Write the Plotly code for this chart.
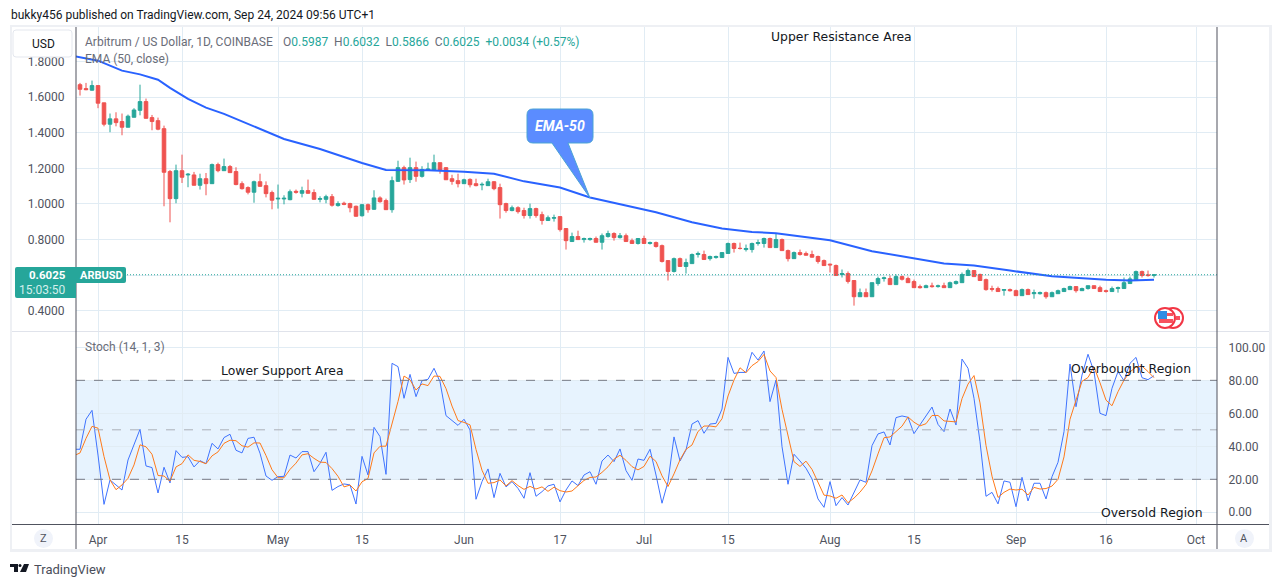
import plotly.graph_objects as go
import numpy as np

W, H = 1281, 587
UP, DOWN = '#26a69a', '#ef5350'
GRID = '#e1ecf4'

# open, high, low, close
OHLC = np.array([
    [1.670,1.680,1.609,1.644],[1.648,1.680,1.639,1.642],[1.639,1.693,1.637,1.665],[1.665,1.665,1.538,1.566],
    [1.568,1.568,1.436,1.448],[1.448,1.508,1.403,1.478],[1.478,1.515,1.436,1.457],[1.463,1.508,1.386,1.431],
    [1.431,1.502,1.431,1.493],[1.487,1.538,1.487,1.528],[1.526,1.670,1.498,1.575],[1.575,1.592,1.481,1.481],
    [1.485,1.500,1.414,1.463],[1.468,1.485,1.414,1.420],[1.423,1.440,0.987,1.178],[1.182,1.191,0.897,1.030],
    [1.030,1.221,1.004,1.187],[1.187,1.277,1.118,1.150],[1.163,1.174,1.094,1.167],[1.163,1.180,1.105,1.105],
    [1.105,1.170,1.081,1.142],[1.142,1.174,1.049,1.114],[1.114,1.227,1.112,1.221],[1.221,1.232,1.178,1.187],
    [1.187,1.255,1.187,1.210],[1.210,1.219,1.176,1.176],[1.182,1.206,1.105,1.109],[1.114,1.127,1.081,1.086],
    [1.092,1.099,1.054,1.066],[1.066,1.131,1.007,1.125],[1.125,1.170,1.097,1.099],[1.103,1.127,1.037,1.058],
    [1.064,1.075,0.970,1.021],[1.028,1.109,0.974,1.032],[1.028,1.049,0.998,1.032],[1.024,1.081,1.021,1.069],
    [1.071,1.081,1.058,1.066],[1.060,1.097,1.037,1.075],[1.075,1.137,1.058,1.060],[1.064,1.082,1.024,1.026],
    [1.026,1.043,1.009,1.030],[1.026,1.052,1.004,1.041],[1.041,1.056,0.985,0.993],[0.991,1.015,0.985,1.002],
    [1.004,1.013,0.993,0.998],[1.002,1.007,0.953,0.979],[0.987,0.991,0.929,0.931],[0.934,1.000,0.929,0.996],
    [0.996,1.002,0.951,0.968],[0.970,1.077,0.968,1.034],[1.034,1.043,1.007,1.013],[1.019,1.030,0.966,0.968],
    [0.968,1.154,0.951,1.131],[1.127,1.243,1.125,1.204],[1.204,1.215,1.109,1.135],[1.137,1.260,1.118,1.204],
    [1.204,1.238,1.125,1.155],[1.155,1.212,1.148,1.193],[1.190,1.232,1.186,1.196],[1.189,1.277,1.187,1.232],
    [1.232,1.232,1.170,1.189],[1.204,1.207,1.136,1.136],[1.142,1.164,1.108,1.127],[1.131,1.170,1.093,1.114],
    [1.114,1.142,1.114,1.136],[1.138,1.144,1.093,1.108],[1.114,1.142,1.099,1.103],[1.107,1.121,1.077,1.110],
    [1.103,1.142,1.103,1.125],[1.125,1.129,1.077,1.086],[1.092,1.114,0.918,0.996],[1.002,1.007,0.951,0.963],
    [0.963,0.991,0.959,0.979],[0.979,0.987,0.946,0.957],[0.963,0.979,0.918,0.935],[0.935,1.002,0.918,0.974],
    [0.974,0.979,0.923,0.935],[0.940,0.957,0.884,0.907],[0.907,0.935,0.907,0.923],[0.920,0.940,0.901,0.923],
    [0.929,0.929,0.845,0.856],[0.862,0.862,0.744,0.794],[0.789,0.839,0.789,0.817],[0.817,0.850,0.800,0.800],
    [0.800,0.811,0.783,0.806],[0.800,0.811,0.794,0.806],[0.806,0.817,0.783,0.785],[0.785,0.834,0.744,0.822],
    [0.817,0.850,0.811,0.834],[0.834,0.841,0.794,0.811],[0.811,0.837,0.806,0.822],[0.822,0.834,0.789,0.789],
    [0.794,0.806,0.778,0.778],[0.778,0.806,0.772,0.806],[0.806,0.822,0.778,0.778],[0.778,0.789,0.772,0.783],
    [0.783,0.789,0.755,0.761],[0.766,0.772,0.671,0.677],[0.682,0.682,0.570,0.621],[0.621,0.699,0.615,0.693],
    [0.693,0.699,0.649,0.649],[0.649,0.693,0.609,0.671],[0.665,0.722,0.665,0.716],[0.716,0.733,0.699,0.722],
    [0.716,0.738,0.688,0.688],[0.693,0.710,0.682,0.705],[0.699,0.710,0.693,0.705],[0.699,0.727,0.699,0.727],
    [0.722,0.783,0.722,0.778],[0.778,0.783,0.727,0.750],[0.751,0.783,0.744,0.750],[0.744,0.772,0.733,0.750],
    [0.744,0.783,0.727,0.778],[0.778,0.800,0.766,0.783],[0.778,0.811,0.755,0.806],[0.806,0.811,0.755,0.755],
    [0.755,0.834,0.755,0.800],[0.800,0.806,0.738,0.738],[0.738,0.744,0.677,0.693],[0.693,0.733,0.693,0.727],
    [0.727,0.744,0.710,0.716],[0.722,0.733,0.710,0.712],[0.716,0.738,0.699,0.701],[0.705,0.710,0.665,0.677],
    [0.682,0.688,0.654,0.654],[0.662,0.665,0.615,0.658],[0.654,0.660,0.598,0.598],[0.604,0.632,0.587,0.609],
    [0.609,0.621,0.553,0.565],[0.570,0.570,0.429,0.479],[0.479,0.525,0.479,0.502],[0.502,0.525,0.479,0.479],
    [0.479,0.558,0.479,0.558],[0.553,0.592,0.541,0.581],[0.581,0.592,0.564,0.585],[0.581,0.598,0.547,0.547],
    [0.547,0.604,0.547,0.592],[0.592,0.598,0.570,0.577],[0.581,0.592,0.558,0.558],[0.564,0.575,0.530,0.530],
    [0.536,0.547,0.525,0.530],[0.530,0.547,0.530,0.541],[0.540,0.558,0.530,0.536],[0.536,0.547,0.530,0.540],
    [0.541,0.558,0.530,0.530],[0.530,0.564,0.530,0.558],[0.553,0.570,0.547,0.564],[0.558,0.615,0.558,0.604],
    [0.598,0.637,0.598,0.626],[0.626,0.626,0.592,0.592],[0.604,0.609,0.570,0.570],[0.575,0.581,0.513,0.519],
    [0.525,0.541,0.508,0.521],[0.525,0.536,0.508,0.508],[0.515,0.519,0.485,0.519],[0.519,0.525,0.508,0.513],
    [0.513,0.519,0.485,0.485],[0.485,0.525,0.485,0.519],[0.519,0.525,0.491,0.491],[0.496,0.519,0.468,0.502],
    [0.496,0.508,0.491,0.502],[0.502,0.508,0.468,0.479],[0.479,0.508,0.479,0.502],[0.496,0.519,0.496,0.513],
    [0.508,0.530,0.508,0.525],[0.519,0.541,0.519,0.536],[0.536,0.536,0.502,0.513],[0.513,0.530,0.513,0.525],
    [0.525,0.541,0.519,0.541],[0.541,0.541,0.525,0.525],[0.530,0.541,0.508,0.508],[0.513,0.519,0.502,0.509],
    [0.508,0.536,0.508,0.525],[0.525,0.536,0.502,0.530],[0.525,0.587,0.525,0.558],[0.553,0.592,0.553,0.579],
    [0.570,0.626,0.570,0.620],[0.620,0.626,0.587,0.598],[0.602,0.626,0.592,0.598],[0.5987,0.6032,0.5866,0.6025],
])

# EMA (day number from the first candle, value)
EMA_DAY = np.array([-1,3,7,10,13,15,18,21,24,28,34,40,47,51,58,64,69,74,80,85,90,96,102,107,112,116,125,128,132,144,149,155,162,171,175,179])
EMA_VAL = np.array([1.831,1.805,1.749,1.728,1.698,1.652,1.590,1.541,1.506,1.449,1.365,1.309,1.230,1.191,1.189,1.181,1.170,1.127,
                    1.092,1.036,1.000,0.953,0.897,0.862,0.843,0.836,0.796,0.769,0.735,0.666,0.654,0.626,0.594,0.575,0.570,0.575])

# one value more than the candles: the stochastic starts the day before
K = np.array([38.2,38.2,56.4,61.8,34.7,4.8,19.6,16.6,13.5,31.7,40.8,50.3,28.1,27.1,11.7,27.3,17.8,37.4,33.3,33.7,27.5,
              31.3,29.5,41.8,38.4,45.3,47.3,37.6,36.0,44.8,45.5,35.8,22.0,19.4,21.6,21.8,34.7,32.9,36.8,36.8,24.6,
              29.7,36.4,13.3,15.6,17.2,16.6,5.0,33.9,22.6,51.5,45.9,23.0,90.3,88.3,69.1,83.6,70.1,79.8,80.6,87.3,
              79.2,58.6,55.4,52.7,56.4,49.9,7.9,18.6,26.3,8.9,23.6,15.4,18.6,14.5,8.5,24.0,9.7,12.5,16.0,17.0,
              6.3,13.5,19.0,16.2,22.6,24.6,17.0,31.1,34.7,30.7,38.4,25.3,19.4,32.3,31.5,38.2,22.6,5.5,18.6,45.7,
              31.1,37.8,53.5,55.6,47.9,53.5,53.9,62.6,93.9,84.2,84.8,84.8,97.0,92.3,97.8,67.1,80.2,39.8,17.0,35.2,
              31.1,26.7,20.2,8.1,3.0,18.6,4.0,8.9,4.4,12.5,19.6,18.2,40.4,47.5,48.7,40.8,57.4,58.4,57.6,47.7,
              53.3,59.0,63.8,53.3,48.9,62.6,52.9,92.9,87.3,69.1,42.8,9.7,12.1,5.1,19.0,18.2,3.4,21.2,6.9,17.6,
              17.6,8.1,21.6,30.3,48.9,89.9,64.0,83.2,95.8,85.3,60.0,58.6,75.2,85.3,79.8,90.3,93.9,81.6,80.4,82.8])
D = np.array([34.3,36.0,44.8,52.1,51.0,33.8,19.7,13.7,16.6,20.6,28.7,40.9,39.7,35.2,22.3,22.0,18.9,27.5,29.5,34.8,31.5,
              30.8,29.4,34.2,36.6,41.8,43.7,43.4,40.3,39.5,42.1,42.0,34.4,25.8,21.0,20.9,26.0,29.8,34.8,35.5,32.7,
              30.4,30.2,26.5,21.8,15.4,16.5,12.9,18.5,20.5,36.0,40.0,40.1,53.1,67.2,82.6,80.3,74.1,77.8,76.8,82.6,
              82.4,75.0,64.4,55.6,54.5,53.0,38.1,25.5,17.6,18.0,19.6,16.0,19.2,16.2,13.9,15.7,14.1,15.4,12.7,15.2,
              13.1,12.3,12.9,16.2,19.3,21.1,21.4,24.2,27.6,32.2,34.6,31.5,27.7,25.7,27.8,34.0,30.8,22.1,15.6,23.3,
              31.8,38.2,40.8,49.0,52.3,52.3,51.8,56.7,70.5,80.2,87.6,84.6,88.9,91.4,95.7,85.7,81.7,62.4,45.7,30.7,
              27.8,31.0,26.0,18.3,10.4,9.9,8.5,10.5,5.8,8.6,12.2,16.8,25.1,35.4,45.2,45.7,49.0,52.2,57.8,54.6,
              52.4,53.7,58.7,58.7,55.4,54.9,54.8,68.9,77.7,82.9,66.3,40.5,21.9,9.0,12.1,14.1,13.5,14.0,10.5,15.1,
              14.1,14.4,15.9,20.0,33.6,56.4,67.6,79.4,81.7,88.1,78.5,68.0,64.6,73.1,80.1,85.1,88.0,88.6,85.3,81.6])


def px(x: float) -> float:
    return x / W


def py(y: float) -> float:
    return 1 - y / H


def box(x0, y0, x1, y1, fill, line=None, kind='rect', width=1) -> dict:
    """
    """
    return dict(type=kind, xref='paper', yref='paper', x0=px(x0), y0=py(y0), x1=px(x1), y1=py(y1),
                fillcolor=fill, line=dict(color=line or fill, width=width if line else 0), layer='above')


def path(points: list, fill: str, line: str = None, width: float = 1) -> dict:
    """
    """
    d = ' '.join(f'{c}{px(x):.5f},{py(y):.5f}' for c, x, y in points) + ' Z'
    return dict(type='path', xref='paper', yref='paper', path=d, fillcolor=fill,
                line=dict(color=line or fill, width=width if line else 0), layer='above')


def label(x, y, text, color='#50535e', size=12, anchor='left', family='Roboto') -> dict:
    """
    """
    return dict(xref='paper', yref='paper', x=px(x), y=py(y), text=text, showarrow=False, xanchor=anchor,
                yanchor='middle', font=dict(color=color, size=size, family=family), borderpad=0)


def draw_chart(ohlc: np.ndarray, k: np.ndarray, d: np.ndarray) -> None:
    """
    """
    days = np.arange('2024-03-29', '2024-09-25', dtype='datetime64[D]')
    dates = days.astype(str)
    stoch_dates = np.arange('2024-03-28', '2024-09-25', dtype='datetime64[D]').astype(str)
    ema_dates = (days[0] + EMA_DAY.astype('timedelta64[D]')).astype(str)

    fig = go.Figure(data=[
        go.Candlestick(x=dates, open=ohlc[:, 0], high=ohlc[:, 1], low=ohlc[:, 2], close=ohlc[:, 3],
                       increasing=dict(line=dict(color=UP, width=1), fillcolor=UP),
                       decreasing=dict(line=dict(color=DOWN, width=1), fillcolor=DOWN),
                       whiskerwidth=0, xaxis='x2', yaxis='y'),
        go.Scatter(x=ema_dates, y=EMA_VAL, mode='lines', line=dict(color='#2962ff', width=2), xaxis='x2', yaxis='y'),
        go.Scatter(x=stoch_dates, y=k, mode='lines', line=dict(color='#3f73ff', width=1), xaxis='x', yaxis='y2'),
        go.Scatter(x=stoch_dates, y=d, mode='lines', line=dict(color='#ff7a1a', width=1), xaxis='x', yaxis='y2'),
    ])

    tick_days = ['2024-04-01', '2024-04-15', '2024-05-01', '2024-05-15', '2024-06-01', '2024-06-17', '2024-07-01',
                 '2024-07-15', '2024-08-01', '2024-08-15', '2024-09-01', '2024-09-16', '2024-10-01']
    tick_text = ['Apr', '15', 'May', '15', 'Jun', '17', 'Jul', '15', 'Aug', '15', 'Sep', '16', 'Oct']
    x_range = ['2024-03-28 08:00', '2024-10-04 12:00']
    x_common = dict(type='date', range=x_range, domain=[px(76), px(1217)], tickmode='array', tickvals=tick_days,
                    gridcolor=GRID, gridwidth=1, zeroline=False, showline=False)

    shapes = [
        # 現在値の点線と Stoch の帯
        dict(type='line', xref='x2 domain', yref='y', x0=0, x1=1, y0=0.6025, y1=0.6025,
             line=dict(color=UP, width=1, dash='1px,2px'), layer='above'),
        dict(type='rect', xref='x domain', yref='y2', x0=0, x1=1, y0=20, y1=80,
             fillcolor='rgba(33,150,243,0.11)', line=dict(width=0), layer='below'),
    ]
    for level, colour in [(80, '#787b86'), (50, '#acafb8'), (20, '#787b86')]:
        shapes.append(dict(type='line', xref='x domain', yref='y2', x0=0, x1=1, y0=level, y1=level,
                           line=dict(color=colour, width=1, dash='dash'), layer='above'))

    # 枠
    for rect in [(10, 25, 1272, 27), (10, 549, 1272, 552), (10, 25, 12, 552), (1269, 25, 1272, 552)]:
        shapes.append(box(*rect, '#eef0f4'))
    shapes += [
        box(12, 331, 1269, 332, '#e0e3eb'),
        box(12, 524, 1269, 525, '#50535e'),
        box(75.5, 27, 76.5, 549, '#50535e'),
        box(1216.5, 27, 1217.5, 549, '#50535e'),
        # USD
        path([('M', 16, 30), ('L', 69, 30), ('Q', 72, 30), ('', 72, 33), ('L', 72, 54), ('Q', 72, 57), ('', 69, 57),
              ('L', 16, 57), ('Q', 13, 57), ('', 13, 54), ('L', 13, 33), ('Q', 13, 30), ('', 16, 30)],
             '#ffffff', '#e4e7ee'),
        # 価格ラベル
        path([('M', 17, 267), ('L', 76, 267), ('L', 76, 298), ('L', 17, 298), ('Q', 15, 298), ('', 15, 296),
              ('L', 15, 269), ('Q', 15, 267), ('', 17, 267)], UP),
        path([('M', 76, 267), ('L', 124, 267), ('Q', 126, 267), ('', 126, 269), ('L', 126, 281), ('Q', 126, 283), ('', 124, 283),
              ('L', 76, 283)], UP),
        # EMA-50 の吹き出し
        path([('M', 533, 109), ('L', 587, 109), ('Q', 593, 109), ('', 593, 115), ('L', 593, 137), ('Q', 593, 143), ('', 587, 143),
              ('L', 568, 143), ('L', 590, 198), ('L', 552, 143), ('L', 533, 143), ('Q', 527, 143), ('', 527, 137),
              ('L', 527, 115), ('Q', 527, 109), ('', 533, 109)], '#5b8cff', '#4aa3d4', 1),
        # Z, A
        box(34, 529, 53, 548, '#f0f3fa', kind='circle'),
        box(1235, 529, 1254, 548, '#f0f3fa', kind='circle'),
        # 旗
        box(1163, 308, 1183, 328, '#ffffff', '#f23645', kind='circle', width=2),
        box(1155, 308, 1175, 328, '#ffffff', '#f23645', kind='circle', width=2),
        box(1159, 313, 1173, 316, '#f7525f'),
        box(1159, 319, 1173, 323, '#f7525f'),
        box(1176, 316, 1180, 320, '#f7525f'),
        box(1158, 311, 1167, 319, '#2f8de4'),
        # ロゴ
        path([('M', 10, 564), ('L', 18, 564), ('L', 18, 572), ('L', 14, 572), ('L', 14, 567), ('L', 10, 567)], '#131722'),
        box(18.5, 564, 21.5, 567, '#131722', kind='circle'),
        path([('M', 24, 564), ('L', 29, 564), ('L', 26, 572), ('L', 20, 572)], '#131722'),
    ]

    green = 'color:#26a69a'
    head = ('O<span style="%s">0.5987</span>  H<span style="%s">0.6032</span>  L<span style="%s">0.5866</span>  '
            'C<span style="%s">0.6025</span>  <span style="%s">+0.0034 (+0.57%%)</span>' % ((green,) * 5)).replace('  ', '\u00a0\u00a0')
    annotations = [
        label(10, 15, 'bukky456 published on TradingView.com, Sep 24, 2024 09:56 UTC+1', '#131722', 12),
        label(84, 42, 'Arbitrum / US Dollar, 1D, COINBASE', '#6a6d78', 12),
        label(282, 42, head, '#6a6d78', 12),
        label(84, 59, 'EMA (50, close)', '#6a6d78', 12),
        label(84, 347, 'Stoch (14, 1, 3)', '#6a6d78', 12),
        label(842, 36, 'Upper Resistance Area', '#131722', 12.4, 'center', 'DejaVu Sans'),
        label(282, 370, 'Lower Support Area', '#131722', 12.4, 'center', 'DejaVu Sans'),
        label(1131, 368, 'Overbought Region', '#131722', 12.4, 'center', 'DejaVu Sans'),
        label(1152, 512, 'Oversold Region', '#131722', 12.4, 'center', 'DejaVu Sans'),
        label(43, 44, 'USD', '#131722', 12, 'center'),
        label(67, 275, '<b>0.6025</b>', '#ffffff', 11.5, 'right'),
        label(67, 290, '15:03:50', '#d4efec', 12, 'right'),
        label(101, 275, '<b>ARBUSD</b>', '#ffffff', 11, 'center'),
        label(560, 126, '<b><i>EMA-50</i></b>', '#ffffff', 14, 'center'),
        label(43, 538, 'Z', '#50535e', 11, 'center'),
        label(1244, 538, 'A', '#50535e', 11, 'center'),
        label(33, 569, 'TradingView', '#4a4e5a', 13),
    ]

    fig.update_layout(
        width=W,
        height=H,
        margin=dict(l=0, r=0, t=0, b=0),
        paper_bgcolor='white',   # 図全体の背景
        plot_bgcolor='white',    # 座標軸の背景
        font=dict(family='Roboto', size=12, color='#50535e'),
        showlegend=False,
        hovermode=False,
        boxgap=0.15,
        xaxis=dict(anchor='y2', ticktext=tick_text, ticks='outside', ticklen=5, tickcolor='rgba(0,0,0,0)', **x_common),
        xaxis2=dict(anchor='y', matches='x', rangeslider=dict(visible=False), showticklabels=False, **x_common),
        yaxis=dict(domain=[py(331), py(27)], range=[0.2865, 1.994], side='left', anchor='x2', tickformat='.4f',
                   tickvals=[0.4, 0.6, 0.8, 1.0, 1.2, 1.4, 1.6, 1.8], gridcolor=GRID, zeroline=False,
                   ticks='outside', ticklen=8, tickcolor='rgba(0,0,0,0)'),
        yaxis2=dict(domain=[py(524), py(332)], range=[-7.1, 109.3], side='right', anchor='x', tickformat='.2f',
                    tickvals=[0, 20, 40, 60, 80, 100], gridcolor=GRID, zeroline=False,
                    ticks='outside', ticklen=8, tickcolor='rgba(0,0,0,0)'),
        shapes=shapes,
        annotations=annotations,
    )
    fig.write_html("out.html", config=dict(displayModeBar=False), post_script="document.body.style.margin='0';")


draw_chart(OHLC, K, D)
